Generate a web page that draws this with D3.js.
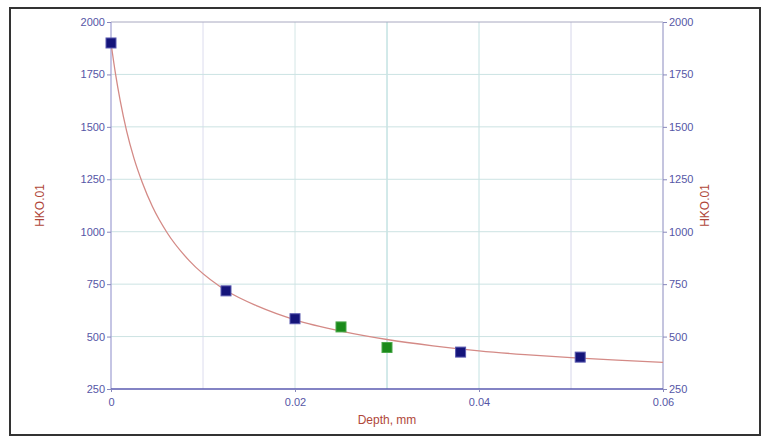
<!DOCTYPE html>
<html><head><meta charset="utf-8">
<script src="https://cdn.jsdelivr.net/npm/d3@7"></script>
<style>
html,body{margin:0;padding:0;background:#fff;}
svg text{font-family:"Liberation Sans",Arial,sans-serif;}
</style></head>
<body>
<svg id="chart" width="767" height="438"></svg>
<script>
// Data
const blueDepth = [0, 0.0125, 0.02, 0.038, 0.051];
const blueHK = [1900, 718, 585, 426, 402];
const greenDepth = [0.025, 0.03];
const greenHK = [546, 448];
const curveDepth = [0, 0.0005, 0.001, 0.0017, 0.0025, 0.0034, 0.0045, 0.0061, 0.0085, 0.0118, 0.0125, 0.016, 0.02, 0.025, 0.03, 0.035, 0.04, 0.045, 0.05, 0.055, 0.06];
const curveHK = [1900, 1750, 1625, 1480, 1350, 1235, 1120, 995, 862, 740, 720, 644, 580, 526, 486, 456, 432, 414, 400, 388, 377];
const xTicks = [0, 0.02, 0.04, 0.06];
const xTickLabels = ["0", "0.02", "0.04", "0.06"];
const xGrid = [0.01, 0.02, 0.03, 0.04, 0.05];
const yTicks = [250, 500, 750, 1000, 1250, 1500, 1750, 2000];
const yLabel = "HKO.01";
const xLabel = "Depth, mm";

const svg = d3.select("#chart");
const L = 111, R = 663, T = 22, B = 389;
const x = d3.scaleLinear().domain([0, 0.06]).range([L, R]);
const y = d3.scaleLinear().domain([250, 2000]).range([B, T]);

const tickCol = "#5656a6", labCol = "#b0473a";

// frame
svg.append("rect").attr("x", 10).attr("y", 8).attr("width", 750).attr("height", 427)
  .attr("fill", "#fff").attr("stroke", "#333").attr("stroke-width", 2);

// grid
const gridColX = {0.01: "#dcdcee", 0.02: "#d4e6e6", 0.03: "#a6d4d4", 0.04: "#c4e2e2", 0.05: "#d6d6ea"};
svg.append("g").selectAll("line").data(xGrid).join("line")
  .attr("x1", d => x(d)).attr("x2", d => x(d)).attr("y1", T).attr("y2", B)
  .attr("stroke", d => gridColX[d]).attr("stroke-width", 1);
svg.append("g").selectAll("line").data(yTicks.slice(1, -1)).join("line")
  .attr("x1", L).attr("x2", R).attr("y1", d => y(d)).attr("y2", d => y(d))
  .attr("stroke", "#cce3e3").attr("stroke-width", 1);

// plot border lines
svg.append("line").attr("x1", L).attr("x2", R).attr("y1", T).attr("y2", T).attr("stroke", "#a8a8c0");
svg.append("line").attr("x1", R).attr("x2", R).attr("y1", T).attr("y2", B).attr("stroke", "#b8b8d8");

// axes
const yLeft = d3.axisLeft(y).tickValues(yTicks).tickSize(4).tickPadding(2).tickFormat(d3.format("d"));
const yRight = d3.axisRight(y).tickValues(yTicks).tickSize(4).tickPadding(2).tickFormat(d3.format("d"));
const xBottom = d3.axisBottom(x).tickValues(xTicks).tickSize(3).tickPadding(6).tickFormat((d, i) => xTickLabels[i]);

function styleAxis(g, lineCol) {
  g.select(".domain").attr("stroke", lineCol).attr("stroke-width", 1.3);
  g.selectAll(".tick line").attr("stroke", "#8888bb");
  g.selectAll(".tick text").attr("fill", tickCol).attr("font-size", 11)
    .attr("font-family", "Liberation Sans, Arial, sans-serif");
}
const gl = svg.append("g").attr("transform", `translate(${L},0)`).call(yLeft);
styleAxis(gl, "#a6a6d6");
gl.select(".domain").attr("d", `M0,${T}V${B}`);
const gr = svg.append("g").attr("transform", `translate(${R},0)`).call(yRight);
styleAxis(gr, "#b8b8d8");
gr.select(".domain").attr("d", `M0,${T}V${B}`);
const gb = svg.append("g").attr("transform", `translate(0,${B})`).call(xBottom);
styleAxis(gb, "#5a5ab0");
gb.select(".domain").attr("d", `M${L},0H${R}`).attr("stroke-width", 1.6);

// axis labels
svg.append("text").attr("transform", `translate(44,${(T + B) / 2}) rotate(-90)`)
  .attr("text-anchor", "middle").attr("fill", labCol).attr("font-size", 12).text(yLabel);
svg.append("text").attr("transform", `translate(709,${(T + B) / 2}) rotate(-90)`)
  .attr("text-anchor", "middle").attr("fill", labCol).attr("font-size", 12).text(yLabel);
svg.append("text").attr("x", x(0.03)).attr("y", 424)
  .attr("text-anchor", "middle").attr("fill", labCol).attr("font-size", 12).text(xLabel);

// curve
const line = d3.line().x(d => x(d[0])).y(d => y(d[1])).curve(d3.curveMonotoneX);
svg.append("path").datum(curveDepth.map((d, i) => [d, curveHK[i]]))
  .attr("d", line).attr("fill", "none").attr("stroke", "#d48a86").attr("stroke-width", 1.3);

// markers
const s = 10;
svg.append("g").selectAll("rect").data(blueDepth.map((d, i) => [d, blueHK[i]])).join("rect")
  .attr("x", d => x(d[0]) - s / 2).attr("y", d => y(d[1]) - s / 2).attr("width", s).attr("height", s)
  .attr("fill", "#14147a").attr("stroke", "#5a5ab0").attr("stroke-width", 1);
svg.append("g").selectAll("rect").data(greenDepth.map((d, i) => [d, greenHK[i]])).join("rect")
  .attr("x", d => x(d[0]) - s / 2).attr("y", d => y(d[1]) - s / 2).attr("width", s).attr("height", s)
  .attr("fill", "#1a8a1a").attr("stroke", "#4aa84a").attr("stroke-width", 1);
</script>
</body></html>
